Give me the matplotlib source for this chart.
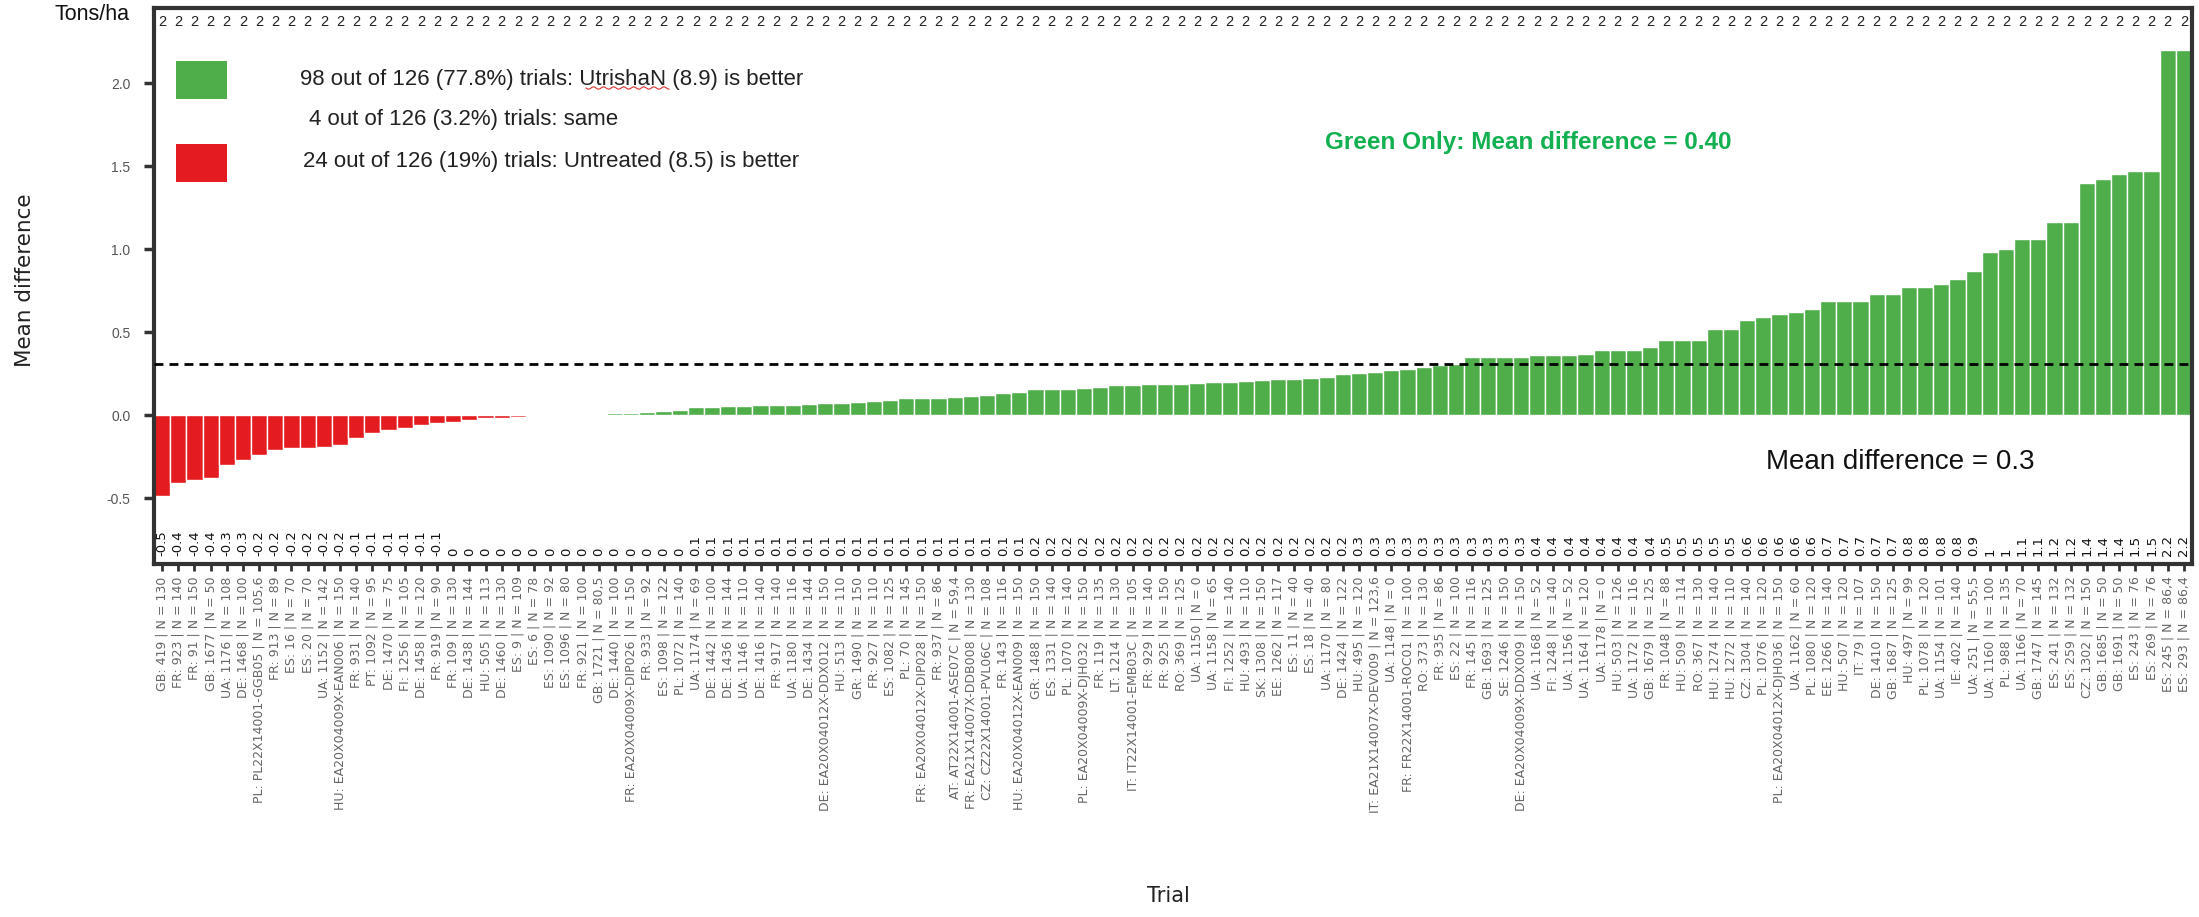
import numpy as np
import matplotlib
matplotlib.use("Agg")
import matplotlib.pyplot as plt
from matplotlib.patches import Rectangle
from matplotlib.lines import Line2D

trials = [
    "GB: 419 | N = 130", "FR: 923 | N = 140", "FR: 91 | N = 150", "GB: 1677 | N = 50",
    "UA: 1176 | N = 108", "DE: 1468 | N = 100", "PL: PL22X14001-GGB05 | N = 105,6",
    "FR: 913 | N = 89", "ES: 16 | N = 70", "ES: 20 | N = 70", "UA: 1152 | N = 142",
    "HU: EA20X04009X-EAN006 | N = 150", "FR: 931 | N = 140", "PT: 1092 | N = 95",
    "DE: 1470 | N = 75", "FI: 1256 | N = 105", "DE: 1458 | N = 120", "FR: 919 | N = 90",
    "FR: 109 | N = 130", "DE: 1438 | N = 144", "HU: 505 | N = 113", "DE: 1460 | N = 130",
    "ES: 9 | N = 109", "ES: 6 | N = 78", "ES: 1090 | N = 92", "ES: 1096 | N = 80",
    "FR: 921 | N = 100", "GB: 1721 | N = 80,5", "DE: 1440 | N = 100",
    "FR: EA20X04009X-DIP026 | N = 150", "FR: 933 | N = 92", "ES: 1098 | N = 122",
    "PL: 1072 | N = 140", "UA: 1174 | N = 69", "DE: 1442 | N = 100", "DE: 1436 | N = 144",
    "UA: 1146 | N = 110", "DE: 1416 | N = 140", "FR: 917 | N = 140", "UA: 1180 | N = 116",
    "DE: 1434 | N = 144", "DE: EA20X04012X-DDX012 | N = 150", "HU: 513 | N = 110",
    "GR: 1490 | N = 150", "FR: 927 | N = 110", "ES: 1082 | N = 125", "PL: 70 | N = 145",
    "FR: EA20X04012X-DIP028 | N = 150", "FR: 937 | N = 86", "AT: AT22X14001-ASE07C | N = 59,4",
    "FR: EA21X14007X-DDB008 | N = 130", "CZ: CZ22X14001-PVL06C | N = 108", "FR: 143 | N = 116",
    "HU: EA20X04012X-EAN009 | N = 150", "GR: 1488 | N = 150", "ES: 1331 | N = 140",
    "PL: 1070 | N = 140", "PL: EA20X04009X-DJH032 | N = 150", "FR: 119 | N = 135",
    "LT: 1214 | N = 130", "IT: IT22X14001-EMB03C | N = 105", "FR: 929 | N = 140",
    "FR: 925 | N = 150", "RO: 369 | N = 125", "UA: 1150 | N = 0", "UA: 1158 | N = 65",
    "FI: 1252 | N = 140", "HU: 493 | N = 110", "SK: 1308 | N = 150", "EE: 1262 | N = 117",
    "ES: 11 | N = 40", "ES: 18 | N = 40", "UA: 1170 | N = 80", "DE: 1424 | N = 122",
    "HU: 495 | N = 120", "IT: EA21X14007X-DEV009 | N = 123,6", "UA: 1148 | N = 0",
    "FR: FR22X14001-ROC01 | N = 100", "RO: 373 | N = 130", "FR: 935 | N = 86",
    "ES: 22 | N = 100", "FR: 145 | N = 116", "GB: 1693 | N = 125", "SE: 1246 | N = 150",
    "DE: EA20X04009X-DDX009 | N = 150", "UA: 1168 | N = 52", "FI: 1248 | N = 140",
    "UA: 1156 | N = 52", "UA: 1164 | N = 120", "UA: 1178 | N = 0", "HU: 503 | N = 126",
    "UA: 1172 | N = 116", "GB: 1679 | N = 125", "FR: 1048 | N = 88", "HU: 509 | N = 114",
    "RO: 367 | N = 130", "HU: 1274 | N = 140", "HU: 1272 | N = 110", "CZ: 1304 | N = 140",
    "PL: 1076 | N = 120", "PL: EA20X04012X-DJH036 | N = 150", "UA: 1162 | N = 60",
    "PL: 1080 | N = 120", "EE: 1266 | N = 140", "HU: 507 | N = 120", "IT: 79 | N = 107",
    "DE: 1410 | N = 150", "GB: 1687 | N = 125", "HU: 497 | N = 99", "PL: 1078 | N = 120",
    "UA: 1154 | N = 101", "IE: 402 | N = 140", "UA: 251 | N = 55,5", "UA: 1160 | N = 100",
    "PL: 988 | N = 135", "UA: 1166 | N = 70", "GB: 1747 | N = 145", "ES: 241 | N = 132",
    "ES: 259 | N = 132", "CZ: 1302 | N = 150", "GB: 1685 | N = 50", "GB: 1691 | N = 50",
    "ES: 243 | N = 76", "ES: 269 | N = 76", "ES: 245 | N = 86,4", "ES: 293 | N = 86,4",
]

values = [
    -0.49, -0.41, -0.39, -0.38, -0.30, -0.27, -0.24, -0.21, -0.20, -0.20, -0.19, -0.18,
    -0.14, -0.11, -0.09, -0.08, -0.06, -0.05, -0.04, -0.03, -0.02, -0.015, -0.01, -0.005,
    0.0, 0.0, 0.0, 0.0,
    0.01, 0.015, 0.02, 0.025, 0.03,
    0.05, 0.05, 0.055, 0.055, 0.06, 0.06, 0.06, 0.065, 0.07, 0.075, 0.08, 0.085, 0.09,
    0.10, 0.10, 0.105, 0.11, 0.115, 0.12, 0.13, 0.14,
    0.155, 0.155, 0.16, 0.165, 0.17, 0.18, 0.18, 0.185, 0.19, 0.19, 0.195, 0.20, 0.20, 0.205,
    0.21, 0.215, 0.22, 0.225, 0.23, 0.25, 0.255, 0.26, 0.27, 0.28, 0.29, 0.30, 0.31,
    0.35, 0.35, 0.35, 0.35, 0.36, 0.36, 0.36, 0.37, 0.39, 0.39, 0.39, 0.41,
    0.45, 0.45, 0.45, 0.52, 0.52, 0.57, 0.59, 0.61, 0.62, 0.64,
    0.69, 0.69, 0.69, 0.73, 0.73, 0.77, 0.77, 0.79, 0.82, 0.87, 0.98, 1.00,
    1.06, 1.06, 1.16, 1.16, 1.40, 1.42, 1.45, 1.47, 1.47, 2.20, 2.20,
]

top_counts = ["2"] * len(values)

legend_lines = [
    "98 out of 126 (77.8%) trials: UtrishaN (8.9) is better",
    "4 out of 126 (3.2%) trials: same",
    "24 out of 126 (19%) trials: Untreated (8.5) is better",
]
green_note = "Green Only: Mean difference = 0.40"
mean_note = "Mean difference = 0.3"

GREEN = "#4FAE4A"
RED = "#E41C1F"
NARROW = ["Liberation Sans Narrow", "Liberation Sans", "DejaVu Sans"]

W, H = 2199, 917
fig = plt.figure(figsize=(W / 100, H / 100), dpi=100)
fig.patch.set_facecolor("white")


def fx(px):
    return px / W


def fy(py):
    return 1 - py / H


ax = fig.add_axes([fx(154), fy(564), (2192 - 154) / W, (564 - 8) / H])
x = np.arange(len(values))
colors = [RED if v < 0 else GREEN for v in values]
ax.bar(x, values, width=1.0, color=colors, edgecolor="white", linewidth=1.0, zorder=2)
ax.set_xlim(-0.5, len(values) - 0.5)
ax.set_ylim(-0.897, 2.452)

ax.axhline(np.mean(values), color="black", linestyle=(0, (3.2, 2.2)), linewidth=2.0, zorder=3)

ax.set_xticks(x)
ax.set_xticklabels(trials, rotation=90, fontsize=9, color="#666666", family="DejaVu Sans")
ax.set_yticks([-0.5, 0.0, 0.5, 1.0, 1.5, 2.0])
ax.set_yticklabels(["-0.5", "0.0", "0.5", "1.0", "1.5", "2.0"], fontsize=10,
                   color="#555555", family=NARROW)
ax.tick_params(axis="x", length=5, width=2, color="#333333", pad=4)
ax.tick_params(axis="y", length=7, width=2.5, color="#333333", pad=10)
for s in ax.spines.values():
    s.set_color("#333333")
    s.set_linewidth(3)

for xi, v in zip(x, values):
    lab = f"{round(v, 1):g}"
    if lab == "-0":
        lab = "0"
    ax.text(xi, -0.85, lab, rotation=90, ha="center", va="bottom", fontsize=9.5,
            color="#111111", family="DejaVu Sans")

for xi, t in zip(x, top_counts):
    ax.text(xi, 2.365, t, ha="center", va="center", fontsize=10.5, color="#222222",
            family=NARROW)

# legend-like annotations
fig.patches.append(Rectangle((fx(176), fy(99)), 51 / W, 38 / H, transform=fig.transFigure,
                             facecolor=GREEN, edgecolor="none"))
fig.patches.append(Rectangle((fx(176), fy(182)), 51 / W, 38 / H, transform=fig.transFigure,
                             facecolor=RED, edgecolor="none"))
fig.text(fx(300), fy(80), legend_lines[0], fontsize=16, family=NARROW, va="center", ha="left",
         color="#222222")
fig.text(fx(309), fy(119), legend_lines[1], fontsize=16, family=NARROW, va="center", ha="left",
         color="#222222")
fig.text(fx(303), fy(161), legend_lines[2], fontsize=16, family=NARROW, va="center", ha="left",
         color="#222222")
# spell-check squiggle under UtrishaN
sx = np.linspace(586, 669, 60)
sy = 88 + 1.2 * np.sin((sx - 586) / 1.6)
fig.add_artist(Line2D(fx(sx), fy(sy), color="#E03030", linewidth=0.8))

fig.text(fx(1325), fy(142), green_note, fontsize=17.5, fontweight="bold", family=NARROW,
         color="#12B050", va="center", ha="left")
fig.text(fx(1766), fy(462), mean_note, fontsize=20, family=NARROW, color="#111111",
         va="center", ha="left")

fig.text(fx(92), fy(15), "Tons/ha", fontsize=15.5, family=NARROW, ha="center", va="center",
         color="#111111")
fig.text(fx(25), fy(280), "Mean difference", fontsize=15.5, rotation=90, family="DejaVu Sans",
         ha="center", va="center", color="#222222")
fig.text(fx(1168), fy(896), "Trial", fontsize=15, family="DejaVu Sans", ha="center",
         va="center", color="#222222")

fig.savefig("out.png", dpi=100, facecolor="white")
